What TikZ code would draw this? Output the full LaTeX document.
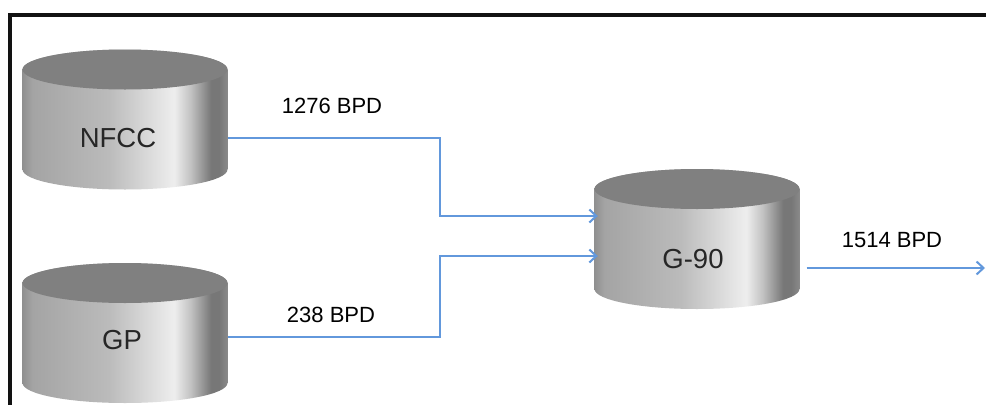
\documentclass[tikz,border=0pt]{standalone}
\usepackage{fontspec}
\setmainfont{Liberation Sans}
\usetikzlibrary{calc,arrows.meta}

% colours
\definecolor{flowblue}{HTML}{6298DC}
\definecolor{tanktop}{HTML}{808080}
\definecolor{tankA}{HTML}{909090}
\definecolor{tankB}{HTML}{A4A4A4}
\definecolor{tankC}{HTML}{BBBBBB}
\definecolor{tankD}{HTML}{D8D8D8}
\definecolor{tankE}{HTML}{EEEEEE}
\definecolor{tankF}{HTML}{C2C2C2}
\definecolor{tankG}{HTML}{777777}
\definecolor{tankH}{HTML}{8A8A8A}

% metallic body of a tank, light band towards the right
\pgfdeclarehorizontalshading{tankbody}{100bp}{%
  color(0bp)=(tankA); color(25bp)=(tankA); color(27.5bp)=(tankB);
  color(46bp)=(tankC); color(55bp)=(tankD); color(62bp)=(tankE);
  color(66bp)=(tankF); color(71bp)=(tankG); color(73bp)=(tankG);
  color(75bp)=(tankH); color(100bp)=(tankH)}

% tank size: width 205pt, end caps with a 20pt vertical radius
\newcommand{\tankrx}{102.5pt}
\newcommand{\tankry}{20pt}

\begin{document}
\begin{tikzpicture}[x=1pt,y=-1pt,
  tank/.style={minimum width=205pt, minimum height=140pt, inner sep=0pt,
    path picture={
      \path let \p1=(path picture bounding box.north west),
                \p2=(path picture bounding box.south east) in
        coordinate (tl) at (\x1,\y1-\tankry)
        coordinate (bl) at (\x1,\y2+\tankry)
        coordinate (tr) at (\x2,\y1-\tankry)
        coordinate (tc) at (\x1+\tankrx,\y1-\tankry);
      \shade[shading=tankbody]
        (tl) -- (bl) arc[start angle=180, end angle=360, x radius=\tankrx, y radius=\tankry]
        -- (tr) arc[start angle=0, end angle=180, x radius=\tankrx, y radius=\tankry] -- cycle;
      \fill[tanktop] (tc) ellipse[x radius=\tankrx, y radius=\tankry];
    }},
  tanktext/.style={font=\fontsize{27.5}{32}\selectfont, text=black!85, inner sep=0pt},
  rate/.style={font=\fontsize{22}{26}\selectfont, text=black, inner sep=0pt},
  flow/.style={draw=flowblue, line width=2pt, line join=miter,
    -{Straight Barb[length=7pt,width=13pt]}},
  frame/.style={draw=black!93, line width=3.5pt, line join=miter}
]
\useasboundingbox[fill=white] (0,0) rectangle (986,405);

% frame along the top and the left
\draw[frame] (986,15) -- (10,15) -- (10,405);

% tanks
\node[tank] (nfcc) at (125,119.5) {};
\node[tank] (gp)   at (125,333) {};
\node[tank] (g90)  at (697,239) {};

\node[tanktext] (nfcctext) at (118,138) {NFCC};
\node[tanktext] (gptext)   at (122,340) {GP};
\node[tanktext] (g90text)  at (693,259) {G-90};

% bends of the feed lines and the free end of the product line
\coordinate (n1) at (440,138);
\coordinate (n2) at (440,256);
\coordinate (out) at (985,268);

\draw[flow] (nfcc.east |- n1) -- (n1) |- ([xshift=3.5pt]g90.west |- 0,216);
\draw[flow] (gp.east |- 0,337) -| (n2) -- ([xshift=3.5pt]g90.west |- n2);
\draw[flow] ([xshift=7pt]g90.east |- out) -- (out);

% flow rates
\node[rate] (r1) at (332,106) {1276 BPD};
\node[rate] (r2) at (331,315) {238 BPD};
\node[rate] (r3) at (892,240) {1514 BPD};
\end{tikzpicture}
\end{document}
